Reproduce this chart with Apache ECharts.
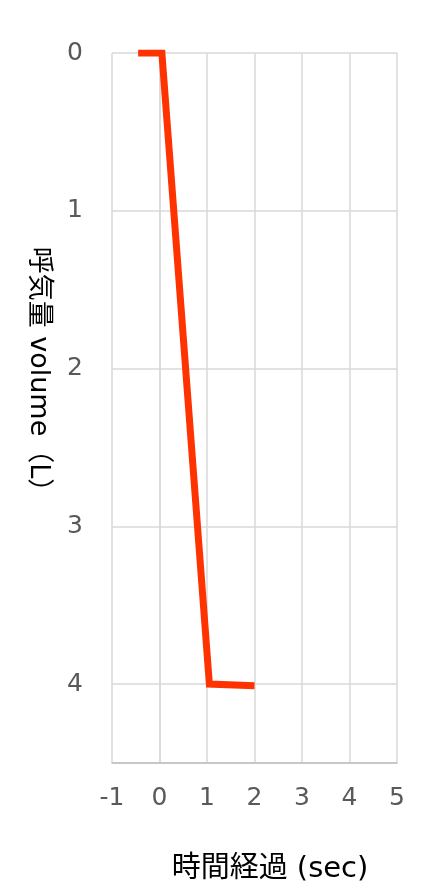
<!DOCTYPE html>
<html>
<head>
<meta charset="utf-8">
<script src="https://cdn.jsdelivr.net/npm/echarts@6/dist/echarts.min.js"></script>
<style>
html,body{margin:0;padding:0;background:#fff;}
#chart{width:445px;height:895px;}
</style>
</head>
<body>
<div id="chart"></div>
<script>
const timeSec = [-0.45, 0.05, 1.05, 2.0];
const volumeL = [0, 0, 4.0, 4.01];
const xTicks = [-1, 0, 1, 2, 3, 4, 5];
const yTicks = [0, 1, 2, 3, 4];
const xName = '時間経過 (sec)';
const yName = '呼気量 volume（L）';

const font = '"DejaVu Sans", "Noto Sans CJK JP", sans-serif';
const chart = echarts.init(document.getElementById('chart'));
chart.setOption({
  animation: false,
  grid: {left: 112, right: 48, top: 53, bottom: 132, containLabel: false},
  xAxis: {
    type: 'value',
    min: xTicks[0], max: xTicks[xTicks.length - 1], interval: 1,
    name: xName,
    nameLocation: 'middle',
    nameGap: 92,
    nameTextStyle: {fontSize: 29, color: '#000', fontFamily: font, padding: [0, 0, 0, 31]},
    axisLine: {show: true, onZero: false, lineStyle: {color: '#bfbfbf', width: 1.5}},
    axisTick: {show: false},
    axisLabel: {fontSize: 25, color: '#595959', fontFamily: font, margin: 23},
    splitLine: {show: true, lineStyle: {color: '#d9d9d9', width: 1.5}}
  },
  yAxis: {
    type: 'value',
    inverse: true,
    min: 0, max: 4.5, interval: 1,
    name: yName,
    nameLocation: 'middle',
    nameRotate: -90,
    nameGap: 60,
    nameTextStyle: {fontSize: 27, color: '#000', fontFamily: font, padding: [0, 64, 0, 0]},
    axisLine: {show: true, lineStyle: {color: '#d9d9d9', width: 1.5}},
    axisTick: {show: false},
    axisLabel: {
      fontSize: 25, color: '#595959', fontFamily: font, margin: 29,
      formatter: v => (yTicks.indexOf(v) >= 0 ? String(v) : '')
    },
    splitLine: {show: true, lineStyle: {color: '#d9d9d9', width: 1.5}}
  },
  series: [{
    type: 'line',
    data: timeSec.map((t, i) => [t, volumeL[i]]),
    showSymbol: false,
    symbol: 'none',
    lineStyle: {color: '#ff3300', width: 7, join: 'miter'}
  }]
});
</script>
</body>
</html>
